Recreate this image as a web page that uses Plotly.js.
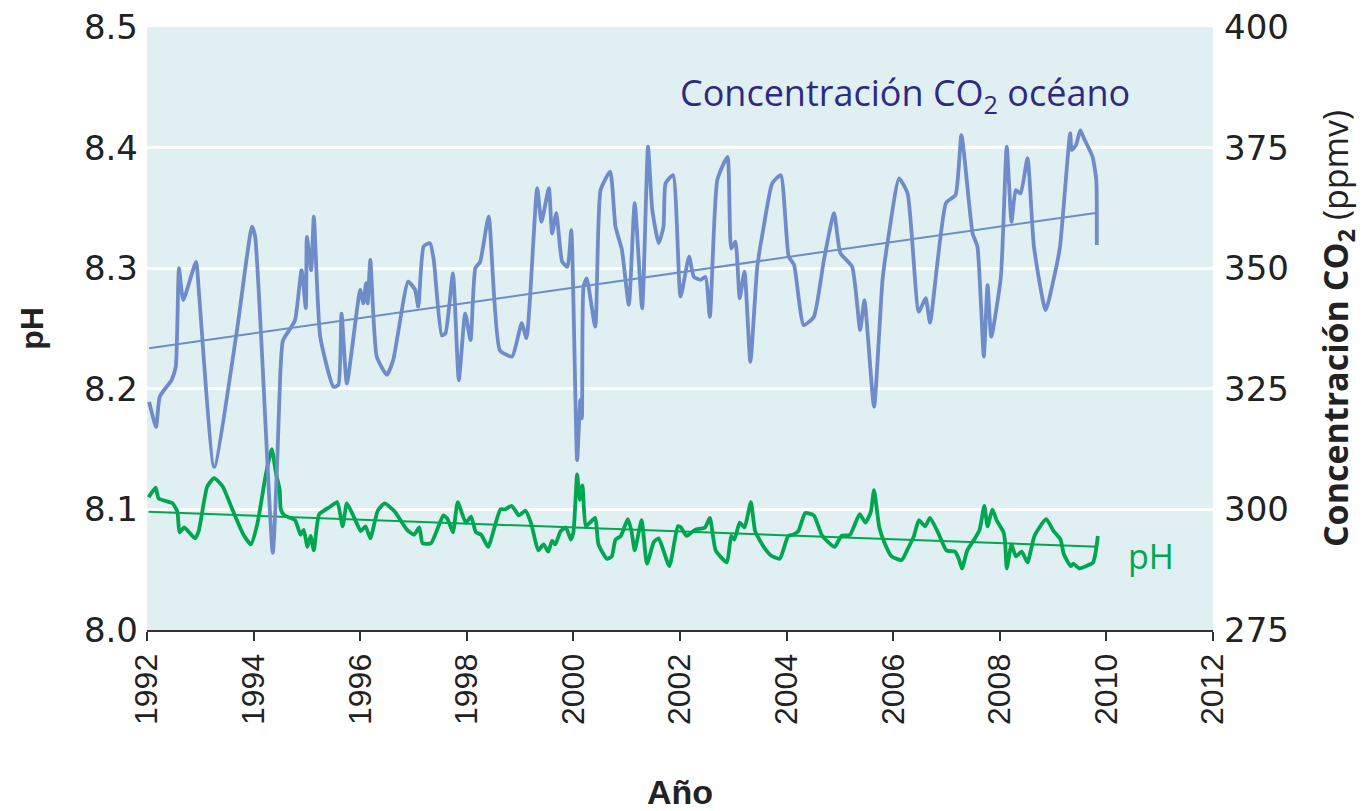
<!DOCTYPE html>
<html>
<head>
<meta charset="utf-8">
<script src="https://cdn.plot.ly/plotly-3.0.1.min.js"></script>
<style>html,body{margin:0;padding:0;background:#fff;}#chart{width:1370px;height:811px;}</style>
</head>
<body>
<div id="chart"></div>
<script>
// CO2 concentration (ppmv), right axis
const co2Years = [1992.04,1992.17,1992.24,1992.46,1992.54,1992.60,1992.68,1992.92,1992.98,1993.26,1993.68,1993.97,1994.03,1994.36,1994.45,1994.50,1994.55,1994.69,1994.78,1994.90,1994.98,1995.00,1995.08,1995.13,1995.25,1995.50,1995.59,1995.65,1995.75,1996.00,1996.06,1996.11,1996.14,1996.19,1996.31,1996.50,1996.62,1996.90,1997.03,1997.09,1997.19,1997.31,1997.38,1997.53,1997.60,1997.74,1997.85,1997.97,1998.07,1998.16,1998.25,1998.41,1998.62,1998.85,1999.03,1999.12,1999.32,1999.40,1999.54,1999.60,1999.68,1999.79,1999.89,1999.96,2000.07,2000.13,2000.16,2000.19,2000.25,2000.41,2000.51,2000.69,2000.79,2000.91,2001.04,2001.15,2001.29,2001.40,2001.48,2001.60,2001.69,2001.73,2001.87,2002.01,2002.17,2002.26,2002.39,2002.48,2002.56,2002.70,2002.89,2002.96,2003.04,2003.12,2003.21,2003.32,2003.45,2003.57,2003.73,2003.89,2004.04,2004.14,2004.32,2004.51,2004.70,2004.89,2005.01,2005.23,2005.38,2005.46,2005.64,2005.80,2005.92,2006.11,2006.27,2006.48,2006.61,2006.69,2006.99,2007.17,2007.28,2007.49,2007.58,2007.70,2007.77,2007.84,2008.02,2008.13,2008.22,2008.30,2008.39,2008.52,2008.64,2008.86,2009.02,2009.13,2009.32,2009.35,2009.43,2009.51,2009.58,2009.74,2009.81,2009.82];
const co2Values = [322.3,317.1,323.4,326.8,329.6,350.0,343.4,351.3,344.1,308.8,336.5,358.6,356.5,291.0,312.0,328.0,335.0,337.5,339.3,349.6,341.7,356.5,349.6,360.7,335.8,325.4,325.8,340.6,326.1,345.5,342.7,346.9,342.7,351.7,331.7,327.9,331.0,347.2,345.5,342.0,354.5,355.2,351.7,336.1,336.5,348.9,326.8,340.6,335.1,350.0,351.3,360.7,333.0,331.7,338.6,335.5,366.6,359.6,366.6,357.2,361.4,351.3,350.3,357.9,310.2,322.7,318.9,346.2,347.9,337.9,366.2,370.0,358.6,353.8,342.4,363.5,341.7,375.2,362.1,355.2,358.6,367.6,369.3,344.1,352.4,348.2,347.6,348.2,339.9,368.3,373.1,354.1,355.5,343.8,349.3,330.6,350.3,358.6,367.6,369.3,352.4,350.7,338.2,339.9,351.7,361.4,353.1,350.3,337.2,343.4,321.3,347.6,357.2,368.6,365.5,341.0,343.8,338.7,363.5,365.2,377.6,357.2,354.5,331.7,346.5,335.8,348.2,375.2,359.6,366.2,365.5,372.8,354.5,341.3,348.2,354.5,378.0,374.5,375.5,378.6,376.9,373.1,368.3,354.8];
const co2TrendYears = [1992.04, 2009.83];
const co2TrendValues = [333.4, 361.5];

// Ocean pH, left axis
const phYears = [1992.03,1992.16,1992.22,1992.48,1992.57,1992.61,1992.70,1992.90,1992.97,1993.13,1993.26,1993.42,1993.61,1993.81,1993.95,1994.07,1994.23,1994.34,1994.42,1994.49,1994.51,1994.58,1994.78,1994.88,1994.94,1995.01,1995.07,1995.13,1995.23,1995.43,1995.57,1995.67,1995.75,1995.91,1996.01,1996.10,1996.19,1996.33,1996.46,1996.65,1996.88,1997.01,1997.11,1997.17,1997.33,1997.56,1997.64,1997.74,1997.83,1997.98,1998.08,1998.17,1998.27,1998.40,1998.63,1998.72,1998.84,1998.98,1999.10,1999.21,1999.34,1999.44,1999.53,1999.60,1999.66,1999.76,1999.86,1999.95,2000.00,2000.07,2000.12,2000.17,2000.23,2000.31,2000.41,2000.47,2000.63,2000.72,2000.79,2000.89,2001.02,2001.09,2001.15,2001.28,2001.38,2001.51,2001.60,2001.80,2001.96,2002.02,2002.12,2002.28,2002.47,2002.56,2002.67,2002.88,2002.96,2003.02,2003.12,2003.21,2003.33,2003.41,2003.57,2003.70,2003.87,2004.03,2004.12,2004.22,2004.35,2004.51,2004.67,2004.90,2005.03,2005.19,2005.37,2005.48,2005.58,2005.64,2005.74,2005.84,2005.97,2006.16,2006.26,2006.39,2006.48,2006.60,2006.69,2006.84,2007.00,2007.16,2007.23,2007.29,2007.39,2007.52,2007.62,2007.71,2007.77,2007.86,2007.94,2008.07,2008.10,2008.13,2008.22,2008.30,2008.41,2008.52,2008.65,2008.87,2009.01,2009.14,2009.20,2009.33,2009.38,2009.49,2009.62,2009.75,2009.80,2009.84];
const phValues = [8.110,8.118,8.109,8.105,8.098,8.081,8.085,8.076,8.082,8.119,8.126,8.119,8.099,8.079,8.071,8.088,8.129,8.150,8.130,8.116,8.100,8.095,8.091,8.079,8.083,8.069,8.078,8.066,8.096,8.102,8.106,8.086,8.105,8.091,8.082,8.086,8.076,8.099,8.105,8.098,8.083,8.079,8.085,8.072,8.072,8.095,8.092,8.081,8.106,8.089,8.094,8.081,8.079,8.069,8.100,8.100,8.103,8.095,8.099,8.088,8.066,8.071,8.065,8.074,8.071,8.082,8.085,8.075,8.081,8.129,8.108,8.120,8.086,8.089,8.093,8.071,8.059,8.061,8.075,8.078,8.092,8.082,8.066,8.091,8.055,8.073,8.076,8.053,8.086,8.085,8.078,8.083,8.085,8.093,8.066,8.056,8.078,8.075,8.089,8.085,8.106,8.082,8.069,8.062,8.059,8.078,8.079,8.082,8.097,8.095,8.078,8.069,8.078,8.079,8.096,8.089,8.098,8.116,8.085,8.072,8.061,8.058,8.066,8.078,8.091,8.086,8.093,8.081,8.066,8.065,8.059,8.051,8.066,8.075,8.083,8.103,8.086,8.100,8.091,8.081,8.073,8.051,8.071,8.061,8.065,8.056,8.078,8.092,8.082,8.075,8.063,8.053,8.055,8.051,8.053,8.056,8.065,8.078];
const phTrendYears = [1992.03, 2009.84];
const phTrendValues = [8.098, 8.069];

const xTickValues = [1992,1994,1996,1998,2000,2002,2004,2006,2008,2010,2012];
const xTickLabels = ['1992','1994','1996','1998','2000','2002','2004','2006','2008','2010','2012'];

const blue = '#6f8cc8';
const green = '#00a650';

const traces = [
  {x: co2Years, y: co2Values, yaxis: 'y2', mode: 'lines', line: {color: blue, width: 3.8, shape: 'spline', smoothing: 0.5}, hoverinfo: 'skip'},
  {x: co2TrendYears, y: co2TrendValues, yaxis: 'y2', mode: 'lines', line: {color: blue, width: 2}, hoverinfo: 'skip'},
  {x: phYears, y: phValues, yaxis: 'y', mode: 'lines', line: {color: green, width: 3.8, shape: 'spline', smoothing: 0.5}, hoverinfo: 'skip'},
  {x: phTrendYears, y: phTrendValues, yaxis: 'y', mode: 'lines', line: {color: green, width: 2}, hoverinfo: 'skip'}
];

const layout = {
  width: 1370, height: 811,
  margin: {l: 147, r: 157, t: 27, b: 181},
  paper_bgcolor: '#ffffff',
  plot_bgcolor: '#dfeff2',
  showlegend: false,
  xaxis: {
    range: [1992, 2012],
    tickvals: xTickValues, ticktext: xTickLabels,
    tickangle: -90,
    ticks: 'outside', ticklen: 9, tickwidth: 2, tickcolor: '#333',
    showline: true, linecolor: '#333', linewidth: 2,
    showgrid: false, zeroline: false,
    tickfont: {family: 'Liberation Sans, Arial, sans-serif', size: 32, color: '#222'},
    title: {text: '<b>Año</b>', font: {family: 'Liberation Sans, Arial, sans-serif', size: 34, color: '#222'}, standoff: 56}
  },
  yaxis: {
    range: [8.0, 8.5], dtick: 0.1, tick0: 8.0, tickformat: '.1f',
    showgrid: true, gridcolor: '#ffffff', gridwidth: 3,
    zeroline: false, showline: false, ticks: '',
    ticklabelstandoff: 8,
    tickfont: {family: 'DejaVu Sans, sans-serif', size: 34, color: '#222'},
    title: {text: '<b>pH</b>', font: {family: 'Liberation Sans, Arial, sans-serif', size: 32, color: '#222'}, standoff: 30}
  },
  yaxis2: {
    range: [275, 400], dtick: 25, tick0: 275,
    overlaying: 'y', side: 'right',
    showgrid: false, zeroline: false, showline: false, ticks: '',
    ticklabelstandoff: 10,
    tickfont: {family: 'DejaVu Sans, sans-serif', size: 34, color: '#222'},
    title: {text: '<b>Concentración CO<sub>2</sub></b> (ppmv)', font: {family: 'Open Sans, sans-serif', size: 34, color: '#222'}, standoff: 36}
  },
  annotations: [
    {text: 'Concentración CO<sub>2</sub> océano', x: 2001.97, y: 386, xref: 'x', yref: 'y2', xanchor: 'left', yanchor: 'middle', showarrow: false,
     font: {family: 'Open Sans, sans-serif', size: 36, color: '#2e2a80'}},
    {text: 'pH', x: 2010.37, y: 8.061, xref: 'x', yref: 'y', xanchor: 'left', yanchor: 'middle', showarrow: false,
     font: {family: 'Open Sans, sans-serif', size: 34, color: green}}
  ]
};

Plotly.newPlot('chart', traces, layout, {displayModeBar: false, staticPlot: true});
</script>
</body>
</html>
